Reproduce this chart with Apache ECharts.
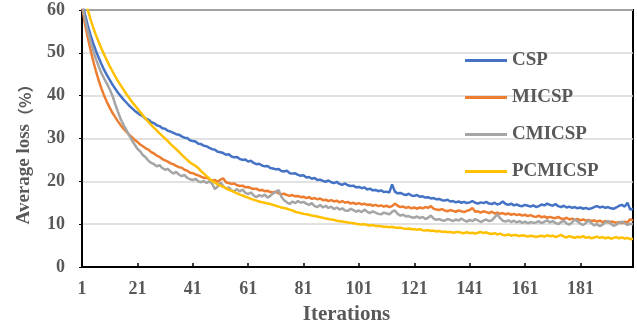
<!DOCTYPE html>
<html>
<head>
<meta charset="utf-8">
<script src="https://cdn.jsdelivr.net/npm/echarts@6/dist/echarts.min.js"></script>
<style>
  html, body { margin: 0; padding: 0; background: #fff; }
  #main { width: 637px; height: 330px; }
</style>
</head>
<body>
<div id="main"></div>
<script>
// iterations 1..200
var iterations = [];
for (var k = 1; k <= 200; k++) iterations.push(String(k));

var seriesNames = ['CSP', 'MICSP', 'CMICSP', 'PCMICSP'];
var yTicks = [0, 10, 20, 30, 40, 50, 60];

var csp = [
  62.0, 59.2, 56.6, 54.3, 52.3, 50.5, 48.9, 47.4, 46.0, 44.8,
  43.7, 42.6, 41.6, 40.7, 39.9, 39.1, 38.4, 37.7, 37.1, 36.5,
  36.0, 35.5, 35.2, 34.6, 34.4, 33.8, 33.6, 33.1, 32.9, 32.4,
  32.3, 31.8, 31.6, 31.3, 31.0, 30.9, 30.5, 30.2, 30.1, 29.6,
  29.4, 29.3, 28.8, 28.7, 28.3, 28.2, 27.8, 27.5, 27.4, 26.9,
  26.8, 26.6, 26.2, 26.3, 25.8, 25.6, 25.7, 25.2, 25.0, 25.1,
  24.6, 24.8, 24.3, 24.0, 24.1, 23.7, 23.5, 23.6, 23.1, 23.0,
  22.8, 22.9, 22.4, 22.3, 22.5, 21.9, 21.8, 21.9, 21.5, 21.3,
  21.4, 20.9, 21.0, 20.6, 20.8, 20.3, 20.4, 20.1, 19.9, 20.2,
  19.8, 19.6, 19.9, 19.4, 19.2, 19.5, 19.1, 18.9, 19.0, 18.6,
  18.7, 18.4, 18.6, 18.1, 18.3, 17.9, 18.0, 17.7, 17.9, 17.5,
  17.6, 17.4, 19.3, 17.6, 17.2, 17.3, 17.0, 16.8, 17.1, 16.7,
  16.6, 16.8, 16.4, 16.5, 16.2, 16.3, 16.0, 16.1, 15.8, 15.9,
  15.6, 15.5, 15.7, 15.3, 15.4, 15.1, 15.3, 15.0, 15.2, 14.9,
  15.1, 15.4, 15.0, 14.8, 15.1, 14.9, 15.2, 14.8, 14.7, 15.0,
  14.6, 14.8, 15.3, 14.7, 14.5, 14.8, 14.4, 14.6, 14.3, 14.2,
  14.5, 14.3, 14.1, 14.4, 14.0, 14.2, 14.6, 14.4, 14.8, 14.5,
  14.3, 14.7, 14.2, 14.0, 14.3, 13.9, 14.1, 13.8, 14.0, 13.7,
  13.9, 13.6, 13.8, 13.5, 13.7, 14.0, 14.2, 13.9, 14.1, 13.8,
  14.0, 13.7, 13.6, 13.9, 14.3, 14.5, 14.1, 15.0, 13.4, 13.6
];

var micsp = [
  61.0, 57.0, 53.8, 50.9, 48.2, 45.8, 43.6, 41.7, 40.0, 38.5,
  37.2, 36.0, 35.0, 34.0, 33.1, 32.3, 31.6, 30.9, 30.3, 29.7,
  29.2, 28.6, 28.2, 27.7, 27.4, 26.8, 26.5, 26.0, 25.7, 25.2,
  24.9, 24.6, 24.2, 24.0, 23.6, 23.3, 23.2, 22.7, 22.5, 22.0,
  21.9, 21.6, 21.4, 21.1, 20.8, 20.9, 20.4, 20.2, 20.3, 19.9,
  20.4, 20.7, 19.8, 19.6, 19.4, 19.5, 19.1, 18.9, 19.0, 18.6,
  18.7, 18.4, 18.2, 18.3, 17.9, 18.0, 17.7, 17.8, 17.5, 17.4,
  17.6, 17.2, 17.0, 17.1, 16.8, 16.6, 16.8, 16.5, 16.6, 16.3,
  16.4, 16.1, 16.3, 15.9, 16.1, 15.8, 16.0, 15.6, 15.7, 15.4,
  15.6, 15.3, 15.5, 15.1, 15.4, 15.0, 15.2, 14.8, 15.0, 14.7,
  14.9, 14.6, 14.8, 14.5, 14.6, 14.3, 14.5, 14.2, 14.4, 14.1,
  14.3, 14.0, 14.2, 14.8, 14.3, 14.0, 14.1, 13.8, 14.0, 13.7,
  13.9, 13.6, 13.9, 13.7, 14.0, 13.8, 14.2, 13.6, 13.4, 13.3,
  13.5, 13.2, 13.0, 13.3, 13.1, 12.9, 13.2, 13.0, 12.8, 13.1,
  13.3, 13.8, 12.9, 13.0, 12.7, 13.0, 12.8, 12.6, 12.9, 12.5,
  12.7, 12.4, 12.6, 12.3, 12.5, 12.2, 12.4, 12.1, 12.3, 12.0,
  12.2, 11.9, 12.1, 11.8, 11.7, 12.0, 11.6, 11.8, 11.5, 11.7,
  11.5, 11.4, 11.7, 11.3, 11.2, 11.5, 11.1, 11.3, 11.0, 11.2,
  10.9, 11.1, 10.8, 11.0, 10.7, 10.9, 10.6, 10.8, 10.5, 10.7,
  10.4, 10.6, 10.5, 10.3, 10.5, 10.2, 10.6, 10.4, 11.2, 10.8
];

var cmicsp = [
  61.5, 58.2, 55.3, 52.8, 50.6, 48.6, 46.9, 45.3, 44.0, 42.8,
  41.5, 40.0, 38.0, 36.2, 34.5, 33.2, 32.0, 30.8, 29.6, 28.6,
  27.6, 27.0, 26.1, 25.6, 24.8, 24.3, 24.0, 23.5, 23.8, 23.1,
  22.7, 22.9, 22.3, 21.8, 22.2, 21.6, 21.2, 21.5, 20.8, 20.5,
  20.3, 20.6, 20.0, 19.8, 20.1, 19.6, 20.0, 19.4, 18.2, 18.8,
  19.7, 18.9, 18.3, 18.6, 17.9, 17.7, 18.2, 17.6, 18.1, 17.3,
  17.0, 17.4, 16.7, 16.3, 16.8, 16.5, 16.9, 16.2, 16.6, 17.2,
  17.5, 18.0, 16.4, 15.6, 15.1, 14.7, 15.3, 14.9, 15.4, 15.0,
  15.2, 14.8, 14.5, 14.9, 14.2, 14.0, 14.5, 13.9, 14.3, 13.8,
  14.1, 13.5, 13.9, 13.4, 13.7, 13.2, 13.1, 13.6, 13.3, 12.9,
  13.2, 12.8, 13.4, 12.9, 12.6, 13.0, 12.7, 12.4, 12.3, 12.7,
  12.5, 12.3, 12.9, 13.2, 12.4, 12.0, 12.2, 11.8, 11.9, 11.6,
  11.5, 11.8, 11.4, 11.7, 11.2, 11.5, 12.0, 11.3, 11.0, 11.2,
  10.9, 10.8, 11.2, 11.0, 10.7, 11.1, 10.8, 11.3, 10.9, 10.6,
  11.0, 10.7, 11.2, 10.9, 10.5, 10.8, 11.1, 10.7, 10.9, 11.6,
  12.3, 11.4, 10.8, 10.6, 10.9, 10.5, 10.8, 10.4, 10.7, 10.3,
  10.6, 10.2, 10.5, 10.3, 10.4, 10.7, 10.2, 10.6, 10.9, 10.4,
  10.7, 10.3, 10.0, 10.5, 10.8, 10.2, 9.9, 10.4, 11.1, 10.6,
  10.1, 9.8, 10.3, 10.9, 10.2, 9.7, 10.0, 9.5, 9.9, 10.4,
  10.8, 10.1, 9.6, 9.9, 10.3, 10.6, 10.2, 9.8, 10.1, 10.0
];

var pcmicsp = [
  65.0, 62.5, 60.2, 58.0, 56.0, 54.2, 52.6, 51.0, 49.6, 48.2,
  46.9, 45.7, 44.5, 43.4, 42.4, 41.4, 40.4, 39.5, 38.6, 37.8,
  37.0, 36.2, 35.4, 34.6, 33.9, 33.2, 32.5, 31.9, 31.2, 30.6,
  30.0, 29.4, 28.7, 28.1, 27.5, 26.9, 26.2, 25.6, 25.0, 24.4,
  24.0, 23.6, 23.1, 22.4, 21.8, 21.2, 20.6, 20.1, 19.7, 19.3,
  19.0, 18.7, 18.4, 18.0, 17.8, 17.5, 17.2, 16.9, 16.7, 16.4,
  16.2, 15.9, 15.7, 15.5, 15.3, 15.1, 15.0, 14.8, 14.7, 14.5,
  14.3, 14.1, 13.9, 13.8, 13.6, 13.4, 13.2, 12.9, 12.7, 12.6,
  12.4, 12.3, 12.2, 12.0, 11.9, 11.8, 11.6, 11.5, 11.3, 11.2,
  11.1, 11.0, 10.8, 10.7, 10.6, 10.5, 10.4, 10.3, 10.2, 10.1,
  10.0, 9.9, 10.0, 9.8, 9.7, 9.8, 9.6, 9.6, 9.5, 9.4,
  9.4, 9.3, 9.4, 9.2, 9.1, 9.2, 9.0, 8.9, 9.0, 8.8,
  8.8, 8.7, 8.8, 8.6, 8.5, 8.6, 8.4, 8.5, 8.3, 8.4,
  8.2, 8.3, 8.1, 8.2, 8.0, 8.1, 8.2, 8.0, 7.9, 8.1,
  7.9, 8.0, 7.8, 8.0, 8.2, 7.9, 8.1, 7.8, 7.7, 7.9,
  7.6, 7.8, 7.5, 7.4, 7.6, 7.3, 7.5, 7.4, 7.2, 7.4,
  7.3, 7.1, 7.3, 7.2, 7.0, 7.2, 7.3, 7.1, 7.4, 7.2,
  7.3, 7.0, 7.2, 7.5, 7.1, 6.9, 7.2, 7.0, 6.8, 7.1,
  6.9, 7.2, 6.8, 7.0, 6.7, 6.9, 7.1, 6.8, 7.0, 6.7,
  6.9, 6.6, 6.8, 7.0, 6.7, 6.9, 6.6, 6.8, 6.5, 6.6
];

var colors = ['#4472C4', '#ED7D31', '#A5A5A5', '#FFC000'];
var seriesData = [csp, micsp, cmicsp, pcmicsp];
var fontFam = '"Liberation Serif", "Noto Sans CJK SC", serif';

var chart = echarts.init(document.getElementById('main'));

var series = [];
for (var s = 0; s < seriesNames.length; s++) {
  series.push({
    name: seriesNames[s],
    type: 'line',
    data: seriesData[s],
    showSymbol: false,
    clip: true,
    lineStyle: { color: colors[s], width: 2.5 },
    itemStyle: { color: colors[s] }
  });
}

var option = {
  backgroundColor: '#fff',
  animation: false,
  grid: {
    left: 82, right: 4, top: 10, bottom: 60,
    show: true, borderColor: '#000', borderWidth: 2
  },
  legend: {
    data: seriesNames,
    orient: 'vertical',
    left: 460,
    top: 46,
    icon: 'rect',
    itemWidth: 42,
    itemHeight: 3,
    itemGap: 18,
    textStyle: { fontFamily: fontFam, fontWeight: 'bold', fontSize: 19, color: '#595959' }
  },
  xAxis: {
    type: 'category',
    data: iterations,
    boundaryGap: false,
    name: 'Iterations',
    nameLocation: 'middle',
    nameGap: 37,
    nameTextStyle: { fontFamily: fontFam, fontWeight: 'bold', fontSize: 21, color: '#595959', padding: [0, 22, 0, 0] },
    axisLine: { lineStyle: { color: '#000', width: 2 } },
    axisTick: { show: true, inside: true, length: 4, interval: 19, lineStyle: { color: '#000', width: 1.5 } },
    axisLabel: { interval: 19, margin: 13, fontFamily: fontFam, fontWeight: 'bold', fontSize: 18, color: '#595959' },
    splitLine: { show: false }
  },
  yAxis: {
    type: 'value',
    min: yTicks[0],
    max: yTicks[yTicks.length - 1],
    interval: 10,
    name: '{a|Average loss}{b|（%）}',
    nameLocation: 'middle',
    nameGap: 48,
    nameTextStyle: {
      fontFamily: fontFam, fontWeight: 'bold', fontSize: 19, color: '#595959', padding: [0, 24, 0, 0],
      rich: {
        a: { fontFamily: fontFam, fontWeight: 'bold', fontSize: 19, color: '#595959' },
        b: { fontFamily: '"Noto Sans CJK SC", sans-serif', fontWeight: 'bold', fontSize: 16, color: '#595959' }
      }
    },
    axisLine: { show: true, lineStyle: { color: '#000', width: 2 } },
    axisTick: { show: true, length: 3, lineStyle: { color: '#000' } },
    axisLabel: { margin: 17, fontFamily: fontFam, fontWeight: 'bold', fontSize: 18, color: '#595959' },
    splitLine: { lineStyle: { color: '#D9D9D9', width: 1.5 } }
  },
  series: series
};

chart.setOption(option);
</script>
</body>
</html>
